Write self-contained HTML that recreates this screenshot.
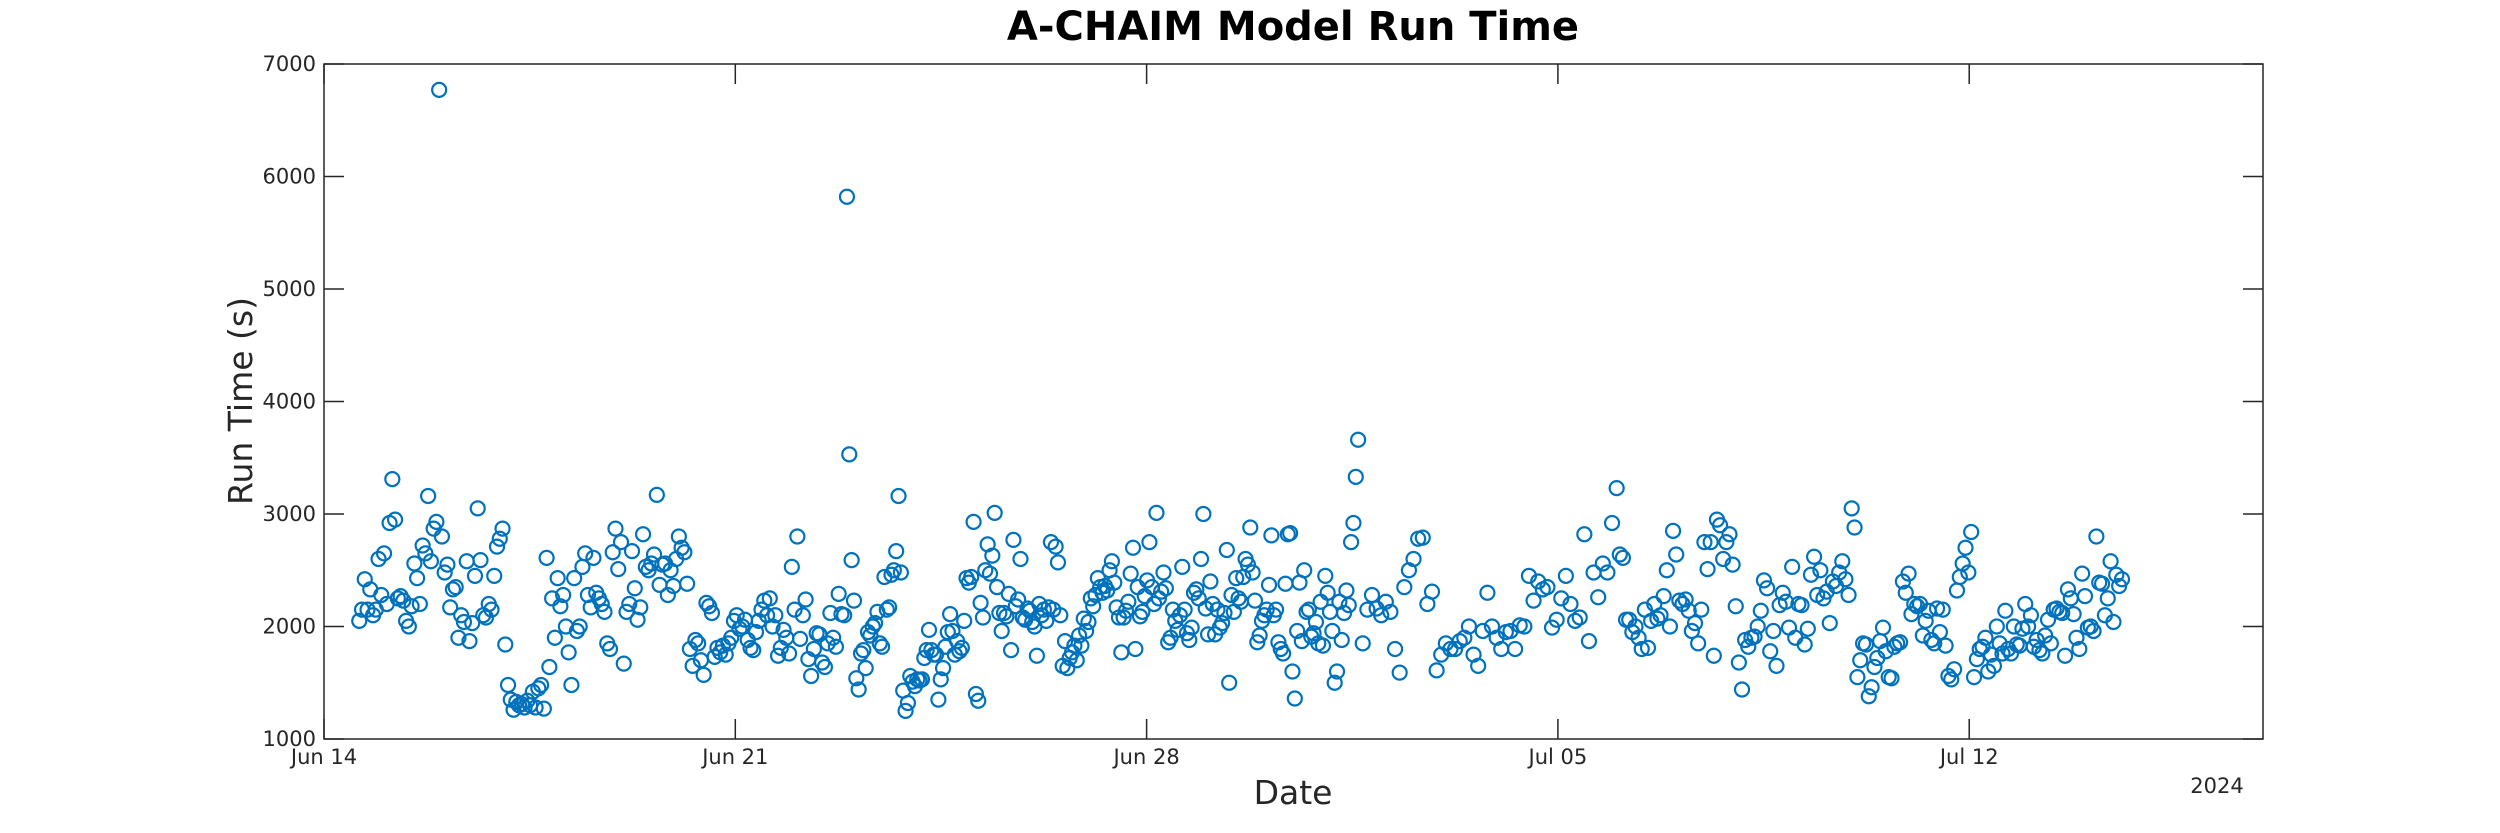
<!DOCTYPE html>
<html><head><meta charset="utf-8"><style>
html,body{margin:0;padding:0;background:#fff;}
svg{display:block;font-family:"DejaVu Sans","Liberation Sans",sans-serif;}
</style></head><body>
<svg id="chart" width="2500" height="833" viewBox="0 0 2500 833" xmlns="http://www.w3.org/2000/svg">
<rect width="2500" height="833" fill="#fff"/>
<text x="1293" y="40" text-anchor="middle" font-size="40" font-weight="bold" fill="#000">A-CHAIM Model Run Time</text>
<text transform="translate(252,401) rotate(-90)" text-anchor="middle" font-size="33" fill="#262626">Run Time (s)</text>
<text x="1293" y="804" text-anchor="middle" font-size="33" fill="#262626">Date</text>
<text x="2217" y="793" text-anchor="middle" font-size="21" fill="#262626">2024</text>
<g id="axes"></g>
<g id="points"></g>
</svg>
<script>
const yTicks=[1000,2000,3000,4000,5000,6000,7000];
const xTickDays=[0,7,14,21,28];
const xTickLabels=["Jun 14","Jun 21","Jun 28","Jul 05","Jul 12"];
const anchorIndex=[0,177,395,451,526,621];
const anchorDay=[0.6,8.9,17.6,22.0,26.0,30.6];
const runTimes=[
2050,2150,2420,2150,2330,2100,2150,2600,2280,2650,2200,2920,3310,2950,2250,2270,2230,2050,2000,2180,2560,2430,
2200,2720,2650,3160,2580,2870,2930,6770,2800,2480,2550,2170,2330,2350,1900,2100,2040,2580,1870,2030,2450,3050,2590,2100,2080,2200,2150,2450,2710,2780,2870,1840,
1480,1350,1260,1330,1300,1310,1280,1340,1300,1420,1280,1450,1480,1270,2610,1640,2250,1900,2430,2180,2280,2000,1770,1480,2430,1960,2000,2530,2650,2280,2170,2610,
2300,2250,2200,2130,1850,1800,2660,2870,2510,2750,1670,2130,2200,2670,2340,2060,2170,2820,2530,2500,2560,2640,3170,2370,2550,2560,2280,2500,2360,2600,2800,2700,2660,2380,
1800,1650,1880,1850,1700,1570,2210,2180,2120,1730,1810,1770,1830,1750,1850,1900,2050,2100,1980,2000,2060,1880,1810,1790,1950,2050,2150,2230,2100,2250,2000,2100,1740,1810,1970,1900,1760,2530,2150,2800,1890,2100,2240,1710,1560,1800,1940,1930,1680,1640,1850,2120,1900,1820,2290,2110,2100,5820,3530,2590,2230,1540,1440,1760,1790,1630,1950,1920,2000,2030,2130,1850,1820,2440,2150,2170,2460,2500,2670,3160,2480,
1430,1250,1320,1560,1510,1470,1530,1520,1530,1720,1790,1970,1790,1750,1750,1350,1530,1630,1820,1950,2110,1960,1750,1870,1780,1810,2050,2430,2390,2440,2930,1400,1340,2210,2080,2500,2730,2470,2630,3010,2350,2120,1960,2120,2090,2290,1790,2770,2180,2240,2600,2080,2060,2160,2140,2040,2000,1740,2200,2100,2150,2050,2170,2750,2150,2710,2570,2100,
1650,1870,1630,1720,1770,1830,1700,1920,1830,2070,1960,2040,2250,2180,2280,2430,2350,2300,2360,2320,2500,2580,2390,2170,2080,1770,2080,2140,2220,2470,2700,1800,2350,2090,2130,2270,2410,2750,2350,2200,3010,2250,2310,2480,2340,1860,1900,2150,2050,1970,2100,2530,2150,1940,1880,1990,2300,2330,2250,2600,3000,2160,1930,2400,2200,1930,2150,1990,2030,
2120,2680,1500,2280,2130,2430,2250,2220,2440,2600,2550,2880,2480,2230,1860,1920,2050,2100,2150,2370,2810,2100,2150,1860,1800,1760,2380,2820,2830,1600,1360,1960,2390,1870,2500,2130,2150,1910,1940,2040,1850,2220,1830,2450,2300,2130,1960,1500,1600,2220,1880,2120,2320,2190,2750,2920,3330,3660,1850,2150,2280,2160,2100,2220,2130,1800,1590,2350,2500,2600,2780,2790,2200,2310,
1610,1750,1850,1800,1800,1870,1900,2000,1750,1650,1960,2300,2000,1900,1800,1950,1960,1800,2010,2000,2450,2230,2400,2330,2350,1990,2060,2250,2450,2200,2050,2080,2820,1870,2480,2260,2560,2480,2920,3230,2640,2610,2060,2060,1950,2000,1900,1800,2150,1810,2050,2200,2070,2100,2270,2500,2000,2850,2640,2230,2200,2240,2140,1960,2030,1850,2150,2750,2510,2750,1740,2950,2900,2600,2750,2820,2550,
2180,1680,1440,1880,1820,1900,1910,2000,2140,2410,2340,1780,1960,1650,2190,2300,2220,1990,2530,1900,2200,2190,1840,1980,2460,2620,2280,2500,2250,2310,2030,2400,2360,2480,2580,2420,2280,3050,2880,1550,1700,1850,1840,1380,1460,1640,1720,1870,1990,1780,1550,1540,1820,1850,1860,2400,2300,2470,2110,2200,2180,2200,1920,2050,2140,1880,1850,2160,1950,2150,
1830,1560,1530,1620,2320,2440,2560,2700,2480,2840,1550,1710,1800,1820,1900,1600,1750,1650,2000,1850,1760,2140,1800,1760,2000,1840,1830,1980,2200,2000,2100,1820,1880,1790,1760,1920,2060,1850,2150,2160,2130,2120,1740,2330,2250,2110,1900,1800,2470,2270,1990,2000,1960,2800,2390,2380,2100,2250,2580,2040,2460,2360,2420
];
const L=324,R=2263,T=64,B=739,XMAX=33;
const NS="http://www.w3.org/2000/svg";
function xs(d){return L+(d/XMAX)*(R-L);}
function ys(v){return B-(v-1000)/6000*(B-T);}
function dayOf(i){
  for(let k=0;k<anchorIndex.length-1;k++){
    if(i<=anchorIndex[k+1]){const f=(i-anchorIndex[k])/(anchorIndex[k+1]-anchorIndex[k]);return anchorDay[k]+f*(anchorDay[k+1]-anchorDay[k]);}
  }
  return anchorDay[anchorDay.length-1];
}
function mk(tag,attrs,parent,txt){const e=document.createElementNS(NS,tag);for(const k in attrs)e.setAttribute(k,attrs[k]);if(txt!==undefined)e.textContent=txt;parent.appendChild(e);return e;}
const ax=document.getElementById('axes');
const box=mk('rect',{x:L,y:T,width:R-L,height:B-T,fill:'none',stroke:'#262626','stroke-width':1.5},ax);


yTicks.forEach(v=>{
  const y=ys(v);
  mk('line',{x1:L,x2:L+20,y1:y,y2:y,stroke:'#262626','stroke-width':1.5},ax);
  mk('line',{x1:R,x2:R-20,y1:y,y2:y,stroke:'#262626','stroke-width':1.5},ax);
  const t=mk('text',{x:L-8,y:y+7,'text-anchor':'end','font-size':21,fill:'#262626'},ax,String(v));
  
  
});
xTickDays.forEach((d,i)=>{
  const x=xs(d);
  mk('line',{x1:x,x2:x,y1:B,y2:B-20,stroke:'#262626','stroke-width':1.5},ax);
  mk('line',{x1:x,x2:x,y1:T,y2:T+20,stroke:'#262626','stroke-width':1.5},ax);
  const t=mk('text',{x:x,y:B+25,'text-anchor':'middle','font-size':21,fill:'#262626'},ax,xTickLabels[i]);
  
  
});
const pg=document.getElementById('points');
runTimes.forEach((v,i)=>{
  const c=mk('circle',{cx:xs(dayOf(i)),cy:ys(v),r:7,fill:'none',stroke:'#0072BD','stroke-width':2.2},pg);
  
  
});
</script>
</body></html>
